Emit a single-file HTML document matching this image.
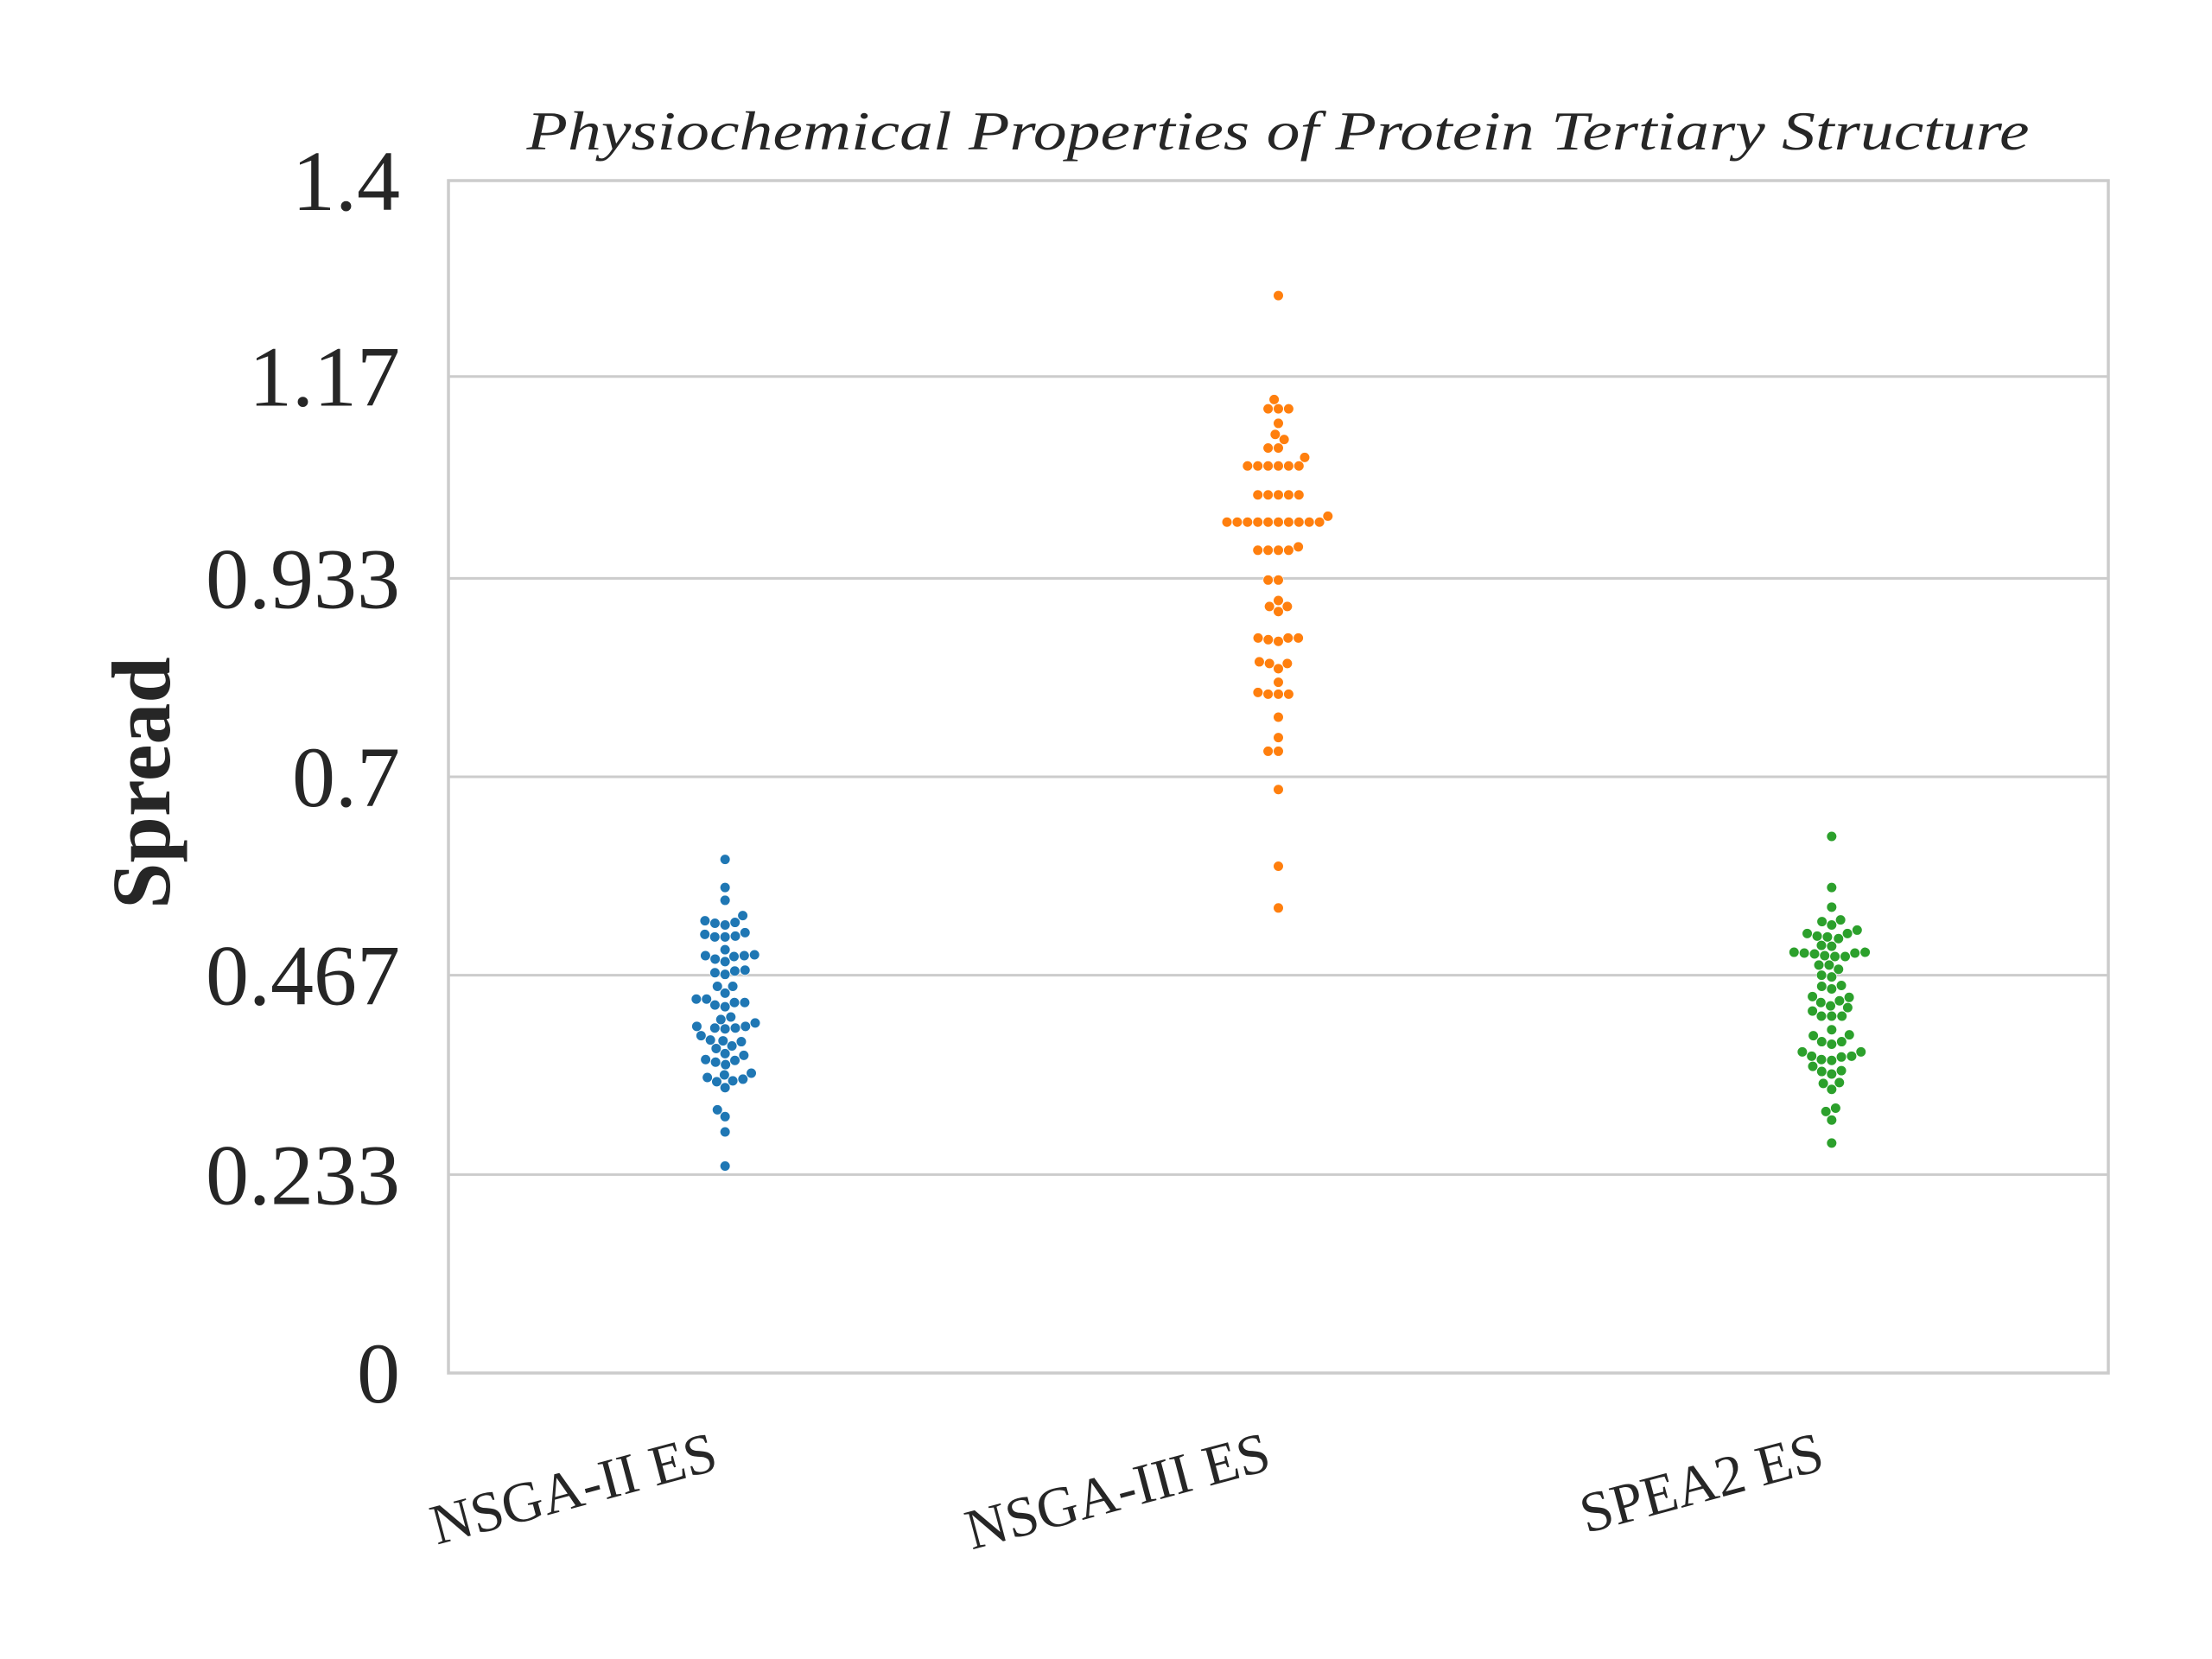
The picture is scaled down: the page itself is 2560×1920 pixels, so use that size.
<!DOCTYPE html>
<html><head><meta charset="utf-8"><style>
html,body{margin:0;padding:0;background:#fff;}
svg{display:block;}
svg text{font-family:"Liberation Serif","Times New Roman",Times,serif;}
</style></head><body>
<svg id="chart" width="2560" height="1920" viewBox="0 0 2560 1920" xmlns="http://www.w3.org/2000/svg">
<rect width="2560" height="1920" fill="#fff"/>
<g id="grid"></g>
<g id="points"></g>
<rect x="519" y="209" width="1921" height="1380" fill="none" stroke="#cccccc" stroke-width="3.5"/>
<g id="yticks"></g>
<g id="xticks"></g>
<text x="1479" y="173" text-anchor="middle" font-style="italic" font-size="64" fill="#262626" textLength="1739" lengthAdjust="spacingAndGlyphs">Physiochemical Properties of Protein Tertiary Structure</text>
<text transform="translate(196,906) rotate(-90)" text-anchor="middle" font-weight="bold" font-size="96" fill="#262626">Spread</text>
</svg>
<script>
const categories = ["NSGA-II ES","NSGA-III ES","SPEA2 ES"];
const colors = ["#1f77b4","#ff7f0e","#2ca02c"];
const yTicks = [0,0.233,0.467,0.7,0.933,1.17,1.4];
const yTickLabels = ["0","0.233","0.467","0.7","0.933","1.17","1.4"];
const seriesNSGA2 = [0.603,0.570,0.555,0.537,0.531,0.529,0.526,0.528,0.515,0.512,0.512,0.513,0.517,0.497,0.490,0.486,0.483,0.489,0.490,0.491,0.473,0.470,0.468,0.472,0.454,0.446,0.454,0.439,0.439,0.432,0.430,0.435,0.435,0.418,0.415,0.411,0.407,0.404,0.405,0.405,0.407,0.396,0.390,0.384,0.381,0.389,0.391,0.375,0.373,0.365,0.362,0.367,0.368,0.352,0.350,0.347,0.342,0.335,0.343,0.345,0.309,0.301,0.283,0.243];
const seriesNSGA3 = [1.265,1.143,1.132,1.132,1.132,1.115,1.102,1.096,1.086,1.086,1.075,1.065,1.065,1.065,1.065,1.065,1.065,1.031,1.031,1.031,1.031,1.031,1.006,0.999,0.999,0.999,0.999,0.999,0.999,0.999,0.999,0.999,0.999,0.966,0.966,0.966,0.966,0.970,0.931,0.931,0.907,0.900,0.900,0.894,0.863,0.861,0.859,0.863,0.863,0.833,0.827,0.833,0.835,0.811,0.799,0.797,0.797,0.797,0.770,0.746,0.730,0.730,0.685,0.595,0.546];
const seriesSPEA2 = [0.630,0.570,0.547,0.532,0.526,0.530,0.520,0.516,0.510,0.512,0.513,0.516,0.501,0.502,0.494,0.493,0.492,0.490,0.489,0.489,0.493,0.494,0.479,0.479,0.474,0.467,0.465,0.451,0.454,0.455,0.442,0.441,0.435,0.437,0.429,0.431,0.425,0.419,0.419,0.419,0.403,0.397,0.396,0.389,0.386,0.389,0.377,0.372,0.371,0.367,0.368,0.372,0.377,0.360,0.354,0.351,0.355,0.340,0.333,0.341,0.307,0.311,0.297,0.270];
const allSeries = [seriesNSGA2, seriesNSGA3, seriesSPEA2];

const NS="http://www.w3.org/2000/svg";
const PL=519, PR=2440, PT=209, PB=1589, YMAX=1.4;
function yScale(v){return PB-(v/YMAX)*(PB-PT);}
function xScale(i){return PL+(i+0.5)*(PR-PL)/categories.length;}

const grid=document.getElementById('grid');
const yt=document.getElementById('yticks');
yTicks.forEach((t,i)=>{
  const y=yScale(t);
  if(t>0 && t<YMAX){
    const l=document.createElementNS(NS,'line');
    
    
    l.setAttribute('x1',PL);l.setAttribute('x2',PR);l.setAttribute('y1',y);l.setAttribute('y2',y);
    l.setAttribute('stroke','#cccccc');l.setAttribute('stroke-width','3');
    grid.appendChild(l);
  }
  const tx=document.createElementNS(NS,'text');
  
  
  tx.setAttribute('x',463);tx.setAttribute('y',y+34);
  tx.setAttribute('text-anchor','end');tx.setAttribute('font-size','100');tx.setAttribute('fill','#262626');
  tx.textContent=yTickLabels[i];
  yt.appendChild(tx);
});

const xt=document.getElementById('xticks');
categories.forEach((c,i)=>{
  const x=xScale(i)-6;
  const tx=document.createElementNS(NS,'text');
  
  
  tx.setAttribute('transform','translate('+x+',1700) rotate(-15)');
  tx.setAttribute('text-anchor','end');tx.setAttribute('font-size','66');tx.setAttribute('fill','#262626');
  tx.textContent=c;
  xt.appendChild(tx);
});

const pts=document.getElementById('points');
const R=5.8, D=2*R+0.3;
allSeries.forEach((vals,ci)=>{
  const cx=xScale(ci);
  const order=vals.map((v,k)=>k).sort((a,b)=>vals[a]-vals[b]);
  const placed=[];
  order.forEach(k=>{
    const y=yScale(vals[k]);
    const cands=[0];
    placed.forEach(p=>{
      const dy=y-p.y;
      if(Math.abs(dy)<D){const dx=Math.sqrt(D*D-dy*dy);cands.push(p.x+dx,p.x-dx);}
    });
    cands.sort((a,b)=>Math.abs(a)-Math.abs(b)||a-b);
    let best=0;
    for(const c of cands){
      let ok=true;
      for(const p of placed){const dx=c-p.x,dy=y-p.y;if(dx*dx+dy*dy<D*D-0.01){ok=false;break;}}
      if(ok){best=c;break;}
    }
    placed.push({x:best,y:y});
    const dot=document.createElementNS(NS,'circle');
    
    
    dot.setAttribute('cx',cx+best);dot.setAttribute('cy',y);dot.setAttribute('r',R);
    dot.setAttribute('fill',colors[ci]);dot.setAttribute('stroke','#fff');dot.setAttribute('stroke-width','0.6');
    pts.appendChild(dot);
  });
});
</script>
</body></html>
